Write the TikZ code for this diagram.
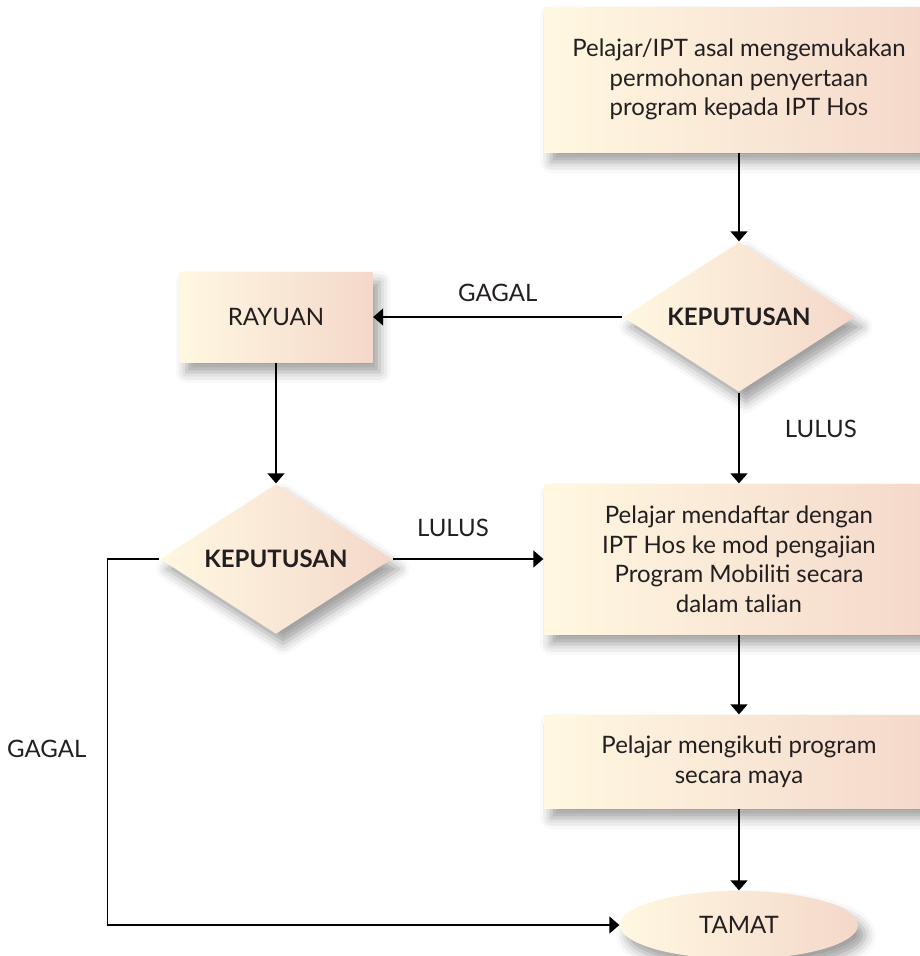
\documentclass[tikz,border=0pt]{standalone}
\usepackage{fontspec}
\setmainfont{Lato}
\usetikzlibrary{shapes.geometric,arrows.meta,shadows.blur}
\definecolor{creamL}{HTML}{FFF8E1}
\definecolor{peachR}{HTML}{F4D8CA}
\definecolor{ink}{HTML}{231F20}
\begin{document}
\begin{tikzpicture}[x=1pt,y=-1pt,>={Triangle[width=17pt,length=10pt]},line width=1.3pt,text=ink,
	font=\fontsize{24}{29.5}\selectfont,
	fillgrad/.style={left color=creamL,right color=peachR,draw=none,blur shadow={shadow xshift=7pt,shadow yshift=-10pt,shadow blur radius=11pt,shadow opacity=38}},
	box/.style={fillgrad,rectangle,inner sep=0pt,align=center},
	decision/.style={fillgrad,diamond,inner sep=0pt,minimum width=232pt,minimum height=150pt,font=\fontsize{24}{28}\selectfont\bfseries},
	terminal/.style={fillgrad,ellipse,inner sep=0pt,minimum width=238pt,minimum height=68pt}]
	\useasboundingbox (0,0) rectangle (920,956);
	\node[box,minimum width=390pt,minimum height=145pt] (ask) at (739,79.5) {Pelajar/IPT asal mengemukakan\\permohonan penyertaan\\program kepada IPT Hos};
	\node[decision] (dec1) at (739,317) {\makebox[0pt]{KEPUTUSAN}};
	\node[box,minimum width=193pt,minimum height=90pt] (rayuan) at (276,317) {RAYUAN};
	\node[decision] (dec2) at (276,559) {\makebox[0pt]{KEPUTUSAN}};
	\node[box,minimum width=390pt,minimum height=150pt] (daftar) at (739,559) {Pelajar mendaftar dengan\\IPT Hos ke mod pengajian\\Program Mobiliti secara\\dalam talian};
	\node[box,minimum width=390pt,minimum height=93pt] (ikuti) at (739,761.5) {Pelajar mengikuti program\\secara maya};
	\node[terminal] (tamat) at (739,925) {TAMAT};
	\draw[->] (ask) -- (dec1);
	\draw[->] (dec1.west) -- node[above=11pt] (gagalA) {GAGAL} (rayuan.east);
	\draw[->] (dec1) -- node[pos=.4,right=42pt] (lulusA) {LULUS} (daftar);
	\draw[->] (rayuan) -- (dec2);
	\draw[->] (dec2.east) -- node[pos=.4,above=18pt] (lulusB) {LULUS} (daftar.west);
	\draw[->] (daftar) -- (ikuti);
	\draw[->] (ikuti) -- (tamat);
	\draw[->] (dec2.west) -- ++(-52,0) |- node[pos=.26,left=17pt] (gagalB) {GAGAL} (tamat.west);
\end{tikzpicture}
\end{document}
